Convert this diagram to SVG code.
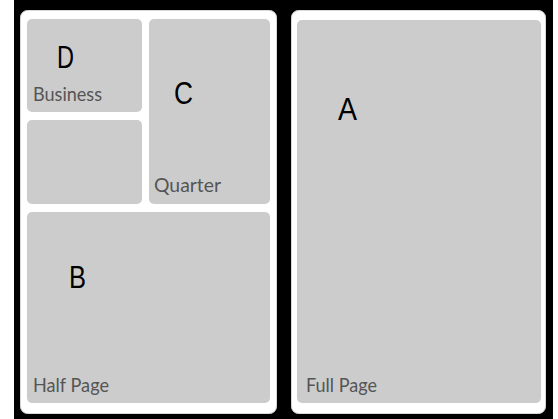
<svg xmlns="http://www.w3.org/2000/svg" width="558" height="419" viewBox="0 0 558 419">
<style>
.panel{fill:#ffffff;stroke:#d8d8d8;stroke-width:1}
.box{fill:#cccccc}
.letter{font-family:"Liberation Sans",Arial,sans-serif;font-size:32px;fill:#000000}
.label{font-family:Lato,"Liberation Sans",sans-serif;font-size:19px;fill:#555555}
</style>
<rect x="0" y="0" width="558" height="419" fill="#ffffff"/>
<rect x="14" y="0" width="539" height="419" fill="#000000"/>
<rect class="panel" x="20.5" y="10.5" width="256" height="403" rx="7"/>
<rect class="panel" x="291.5" y="10.5" width="254" height="403" rx="7"/>
<g id="nodeD">
<rect class="box" x="27" y="19" width="115" height="93" rx="5"/>
<text class="letter" x="57" y="68" textLength="17" lengthAdjust="spacingAndGlyphs">D</text>
<text class="label" x="33" y="101" textLength="69" lengthAdjust="spacingAndGlyphs">Business</text>
</g>
<g id="nodeSmall">
<rect class="box" x="27" y="120" width="115" height="84" rx="5"/>
</g>
<g id="nodeC">
<rect class="box" x="149" y="19" width="121" height="185" rx="5"/>
<text class="letter" x="174" y="104" textLength="19" lengthAdjust="spacingAndGlyphs">C</text>
<text class="label" x="154" y="192" textLength="67" lengthAdjust="spacingAndGlyphs">Quarter</text>
</g>
<g id="nodeB">
<rect class="box" x="27" y="212" width="243" height="191" rx="5"/>
<text class="letter" x="69" y="288" textLength="17" lengthAdjust="spacingAndGlyphs">B</text>
<text class="label" x="33" y="392" textLength="76" lengthAdjust="spacingAndGlyphs">Half Page</text>
</g>
<g id="nodeA">
<rect class="box" x="297" y="20" width="244" height="383" rx="5"/>
<text class="letter" x="338" y="120" textLength="19" lengthAdjust="spacingAndGlyphs">A</text>
<text class="label" x="306" y="392" textLength="71" lengthAdjust="spacingAndGlyphs">Full Page</text>
</g>
<g id="connectors"/>
</svg>
